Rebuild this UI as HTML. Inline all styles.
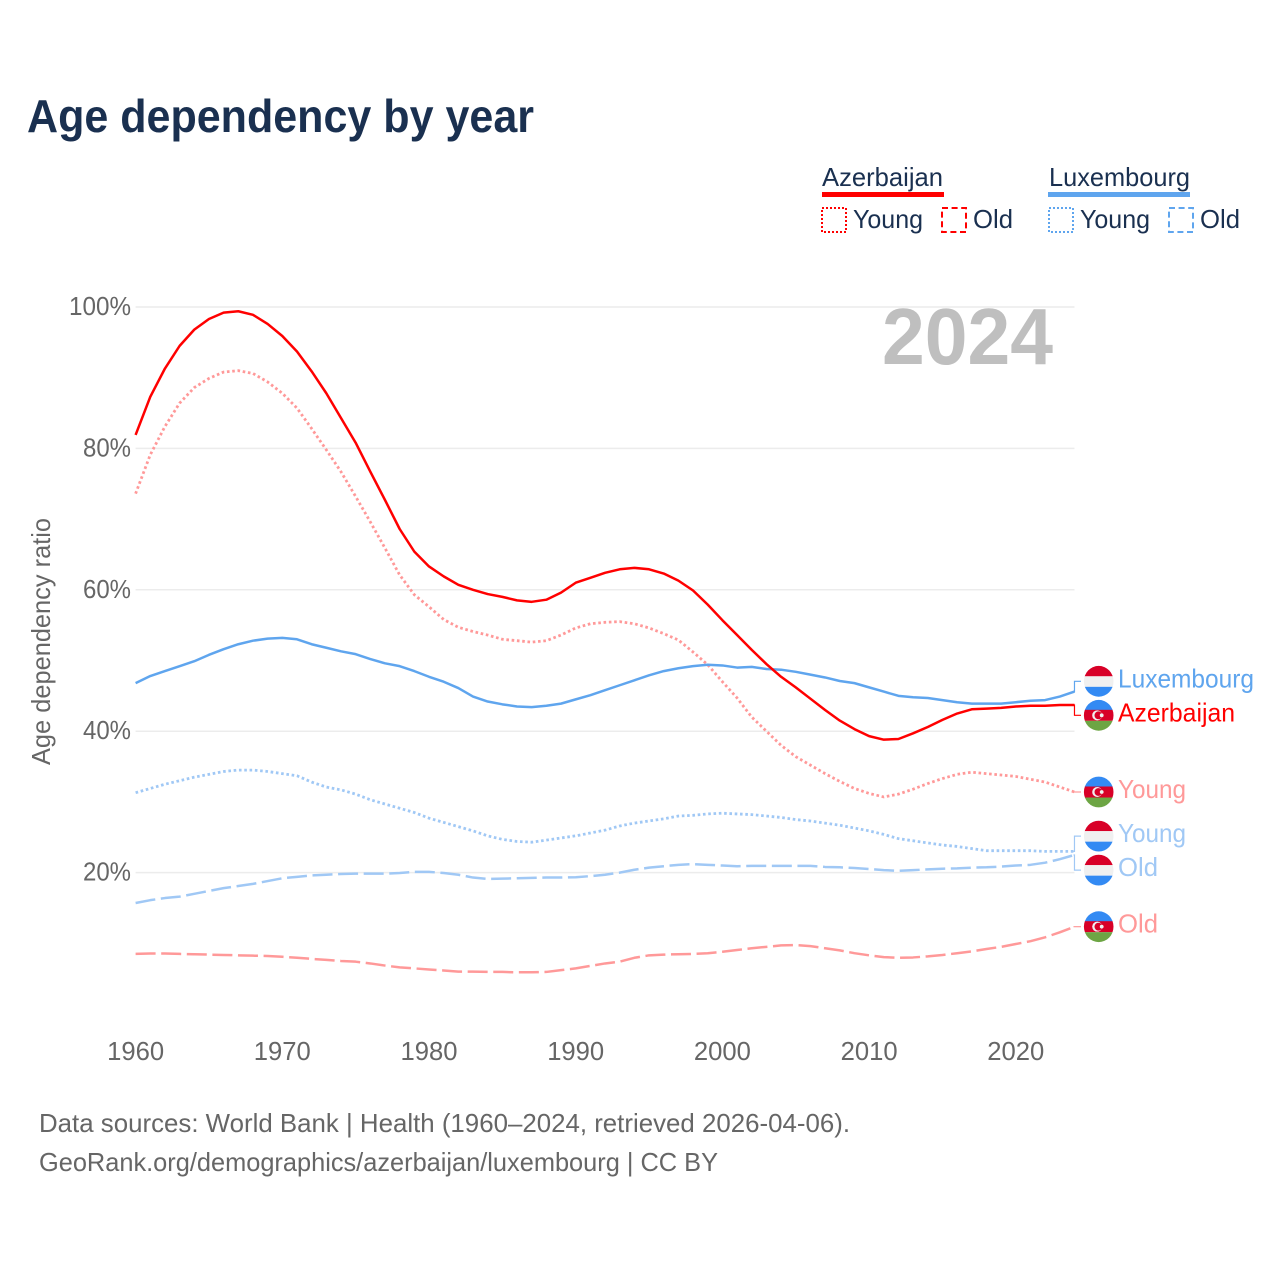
<!DOCTYPE html>
<html lang="en">
<head>
<meta charset="utf-8">
<title>Age dependency by year</title>
<style>
html,body{margin:0;padding:0;background:#fff;}
svg{display:block;font-family:"Liberation Sans",sans-serif;}
.navy{fill:#1a3050;}
.grey{fill:#666;}
</style>
</head>
<body>
<svg id="chart" xmlns="http://www.w3.org/2000/svg" width="1280" height="1280" viewBox="0 0 1280 1280">
  <defs>
    <clipPath id="flag-clip"><ellipse cx="0" cy="0" rx="14.8" ry="15.4"/></clipPath>
  </defs>
  <rect x="0" y="0" width="1280" height="1280" fill="#fff"/>
  <text class="navy" x="27" y="132" font-size="46" font-weight="700" textLength="507" lengthAdjust="spacingAndGlyphs">Age dependency by year</text>

  <g>
    <text class="navy" x="822" y="186" font-size="26" textLength="121" lengthAdjust="spacingAndGlyphs">Azerbaijan</text>
    <rect x="822" y="192" width="122" height="5" fill="#ff0000"/>
    <rect x="822" y="208" width="24" height="24" fill="none" stroke="#ff0000" stroke-width="2" stroke-dasharray="2 2"/>
    <text class="navy" x="853" y="228" font-size="26" textLength="70" lengthAdjust="spacingAndGlyphs">Young</text>
    <rect x="942" y="208" width="24" height="24" fill="none" stroke="#ff0000" stroke-width="2" stroke-dasharray="6 3.6"/>
    <text class="navy" x="973" y="228" font-size="26" textLength="40" lengthAdjust="spacingAndGlyphs">Old</text>
    <text class="navy" x="1049" y="186" font-size="26" textLength="141" lengthAdjust="spacingAndGlyphs">Luxembourg</text>
    <rect x="1048" y="192" width="142" height="5" fill="#5fa5ee"/>
    <rect x="1049" y="208" width="24" height="24" fill="none" stroke="#5fa5ee" stroke-width="2" stroke-dasharray="2 2"/>
    <text class="navy" x="1080" y="228" font-size="26" textLength="70" lengthAdjust="spacingAndGlyphs">Young</text>
    <rect x="1169" y="208" width="24" height="24" fill="none" stroke="#5fa5ee" stroke-width="2" stroke-dasharray="6 3.6"/>
    <text class="navy" x="1200" y="228" font-size="26" textLength="40" lengthAdjust="spacingAndGlyphs">Old</text>
  </g>

  <text class="grey" transform="translate(50,641.5) rotate(-90)" text-anchor="middle" font-size="26" textLength="247" lengthAdjust="spacingAndGlyphs">Age dependency ratio</text>

  <g id="grid"></g>
  <g id="yticks"></g>
  <g id="xticks"></g>

  <text x="1053" y="364" text-anchor="end" font-size="80" font-weight="700" fill="#bfbfbf" textLength="171" lengthAdjust="spacingAndGlyphs">2024</text>

  <g id="lines"></g>
  <g id="endlabels"></g>

  <text class="grey" x="39" y="1132" font-size="26" textLength="811" lengthAdjust="spacingAndGlyphs">Data sources: World Bank | Health (1960–2024, retrieved 2026-04-06).</text>
  <text class="grey" x="39" y="1171" font-size="26" textLength="679" lengthAdjust="spacingAndGlyphs">GeoRank.org/demographics/azerbaijan/luxembourg | CC BY</text>
</svg>

<script>
const years = [1960,1961,1962,1963,1964,1965,1966,1967,1968,1969,1970,1971,1972,1973,1974,1975,1976,1977,1978,1979,1980,1981,1982,1983,1984,1985,1986,1987,1988,1989,1990,1991,1992,1993,1994,1995,1996,1997,1998,1999,2000,2001,2002,2003,2004,2005,2006,2007,2008,2009,2010,2011,2012,2013,2014,2015,2016,2017,2018,2019,2020,2021,2022,2023,2024];
const azerbaijanTotal = [81.9,87.3,91.3,94.5,96.8,98.3,99.2,99.4,98.9,97.6,95.9,93.7,90.9,87.8,84.3,80.8,76.7,72.7,68.6,65.4,63.3,61.9,60.7,60.0,59.4,59.0,58.5,58.3,58.6,59.6,61.0,61.7,62.4,62.9,63.1,62.9,62.3,61.3,59.9,57.9,55.7,53.6,51.5,49.5,47.7,46.2,44.6,43.0,41.5,40.3,39.3,38.8,38.9,39.7,40.6,41.6,42.5,43.1,43.2,43.3,43.5,43.6,43.6,43.7,43.7];
const luxembourgTotal = [46.8,47.8,48.5,49.2,49.9,50.8,51.6,52.3,52.8,53.1,53.2,53.0,52.3,51.8,51.3,50.9,50.2,49.6,49.2,48.5,47.7,47.0,46.1,44.9,44.2,43.8,43.5,43.4,43.6,43.9,44.5,45.1,45.8,46.5,47.2,47.9,48.5,48.9,49.2,49.4,49.3,49.0,49.1,48.8,48.7,48.4,48.0,47.6,47.1,46.8,46.2,45.6,45.0,44.8,44.7,44.4,44.1,43.9,43.9,43.9,44.1,44.3,44.4,44.9,45.6];
const azerbaijanYoung = [73.6,79.1,83.1,86.4,88.6,89.9,90.8,91.0,90.6,89.4,87.8,85.7,82.8,79.8,76.7,73.2,69.6,65.9,62.1,59.3,57.6,55.8,54.7,54.1,53.6,53.0,52.8,52.6,52.8,53.6,54.6,55.2,55.4,55.5,55.2,54.6,53.8,52.9,51.2,49.4,47.0,44.7,42.0,40.0,38.0,36.4,35.2,34.0,32.9,31.9,31.2,30.7,31.1,31.8,32.6,33.3,33.9,34.2,34.0,33.8,33.6,33.2,32.8,32.1,31.4];
const luxembourgYoung = [31.3,31.9,32.5,33.0,33.5,33.9,34.3,34.5,34.5,34.3,34.0,33.7,32.8,32.1,31.7,31.1,30.3,29.7,29.1,28.5,27.7,27.1,26.5,25.9,25.2,24.7,24.4,24.3,24.6,24.9,25.2,25.6,26.0,26.6,27.0,27.3,27.6,28.0,28.1,28.3,28.4,28.3,28.2,28.0,27.8,27.5,27.3,27.0,26.7,26.3,25.9,25.4,24.8,24.5,24.2,23.9,23.7,23.4,23.1,23.1,23.1,23.1,23.0,23.0,23.0];
const luxembourgOld = [15.7,16.1,16.4,16.6,17.0,17.4,17.8,18.1,18.4,18.8,19.2,19.4,19.6,19.7,19.8,19.85,19.85,19.85,19.95,20.1,20.1,19.95,19.7,19.3,19.1,19.15,19.2,19.25,19.3,19.3,19.35,19.5,19.7,20.0,20.4,20.7,20.9,21.1,21.2,21.1,21.0,20.9,20.95,20.95,20.95,20.95,20.95,20.8,20.75,20.65,20.5,20.35,20.25,20.35,20.45,20.55,20.6,20.7,20.75,20.85,21.0,21.1,21.4,21.9,22.5];
const azerbaijanOld = [8.5,8.55,8.55,8.5,8.45,8.4,8.35,8.3,8.25,8.2,8.1,7.95,7.8,7.65,7.5,7.4,7.15,6.85,6.6,6.45,6.3,6.15,6.0,6.0,5.95,5.95,5.9,5.9,5.95,6.2,6.45,6.8,7.15,7.4,7.95,8.3,8.4,8.45,8.5,8.6,8.8,9.05,9.3,9.5,9.7,9.75,9.6,9.3,9.0,8.6,8.3,8.05,7.95,8.0,8.15,8.35,8.6,8.85,9.2,9.5,9.9,10.3,10.85,11.55,12.35];
const yTickValues = [100,80,60,40,20];
const yTickLabels = ["100%","80%","60%","40%","20%"];
const xTickValues = [1960,1970,1980,1990,2000,2010,2020];
const xTickLabels = ["1960","1970","1980","1990","2000","2010","2020"];

const SVGNS = 'http://www.w3.org/2000/svg';
const xScale = year => 135.6 + (year - 1960) * 14.67;
const yScale = value => 872.6 - (value - 20) * 7.07;

function make(tag, parent, attrs, text) {
  const node = document.createElementNS(SVGNS, tag);
  for (const key in attrs) node.setAttribute(key, attrs[key]);
  if (text !== undefined) node.textContent = text;
  parent.appendChild(node);
  return node;
}

const gridGroup = document.getElementById('grid');
const yTickGroup = document.getElementById('yticks');
yTickValues.forEach((value, i) => {
  const line = make('line', gridGroup, {x1: xScale(1960), x2: xScale(2024), y1: yScale(value), y2: yScale(value), stroke: '#ececec', 'stroke-width': 1.5});
  
  
  const label = make('text', yTickGroup, {x: 131, y: yScale(value) + 8, 'text-anchor': 'end', 'font-size': 26, fill: '#666', textLength: value === 100 ? 62 : 48, lengthAdjust: 'spacingAndGlyphs'}, yTickLabels[i]);
  
  
});

const xTickGroup = document.getElementById('xticks');
xTickValues.forEach((year, i) => {
  const label = make('text', xTickGroup, {x: xScale(year), y: 1060, 'text-anchor': 'middle', 'font-size': 26, fill: '#666', textLength: 57, lengthAdjust: 'spacingAndGlyphs'}, xTickLabels[i]);
  
  
});

const seriesList = [
  {key: 'azerbaijan-old', values: azerbaijanOld, color: '#ff9999', dash: '20 5.6', width: 2.5, text: 'Old', flag: 'az', labelWidth: 40},
  {key: 'luxembourg-old', values: luxembourgOld, color: '#a0c8f5', dash: '20 5.6', width: 2.5, text: 'Old', flag: 'lu', labelWidth: 40},
  {key: 'luxembourg-young', values: luxembourgYoung, color: '#a0c8f5', dash: '2.6 2.7', width: 2.8, text: 'Young', flag: 'lu', labelWidth: 68},
  {key: 'azerbaijan-young', values: azerbaijanYoung, color: '#ff9999', dash: '2.6 2.7', width: 2.8, text: 'Young', flag: 'az', labelWidth: 68},
  {key: 'luxembourg-total', values: luxembourgTotal, color: '#5fa5ee', dash: 'none', width: 2.5, text: 'Luxembourg', flag: 'lu', labelWidth: 136},
  {key: 'azerbaijan-total', values: azerbaijanTotal, color: '#ff0000', dash: 'none', width: 2.5, text: 'Azerbaijan', flag: 'az', labelWidth: 117}
];

const lineGroup = document.getElementById('lines');
seriesList.forEach(series => {
  const d = series.values.map((value, i) => (i ? 'L' : 'M') + xScale(years[i]).toFixed(2) + ' ' + yScale(value).toFixed(2)).join(' ');
  const path = make('path', lineGroup, {d: d, fill: 'none', stroke: series.color, 'stroke-width': series.width, 'stroke-dasharray': series.dash, 'stroke-linejoin': 'round'});
  
  
});

/* end labels: spread overlapping labels apart around their data position */
const MIN_GAP = 34;
const placed = seriesList.map(series => {
  const anchor = yScale(series.values[series.values.length - 1]);
  return {series: series, anchor: anchor, y: anchor};
}).sort((a, b) => a.anchor - b.anchor);
for (let pass = 0; pass < 20; pass++) {
  for (let i = 1; i < placed.length; i++) {
    const gap = placed[i].y - placed[i - 1].y;
    if (gap < MIN_GAP) {
      const shift = (MIN_GAP - gap) / 2;
      placed[i - 1].y -= shift;
      placed[i].y += shift;
    }
  }
}

const labelGroup = document.getElementById('endlabels');
const lineEndX = xScale(2024);
placed.forEach(item => {
  const series = item.series;
  const leader = make('path', labelGroup, {d: 'M' + (lineEndX - 1) + ' ' + item.anchor + ' H' + lineEndX + ' V' + item.y + ' H1081', fill: 'none', stroke: series.color, 'stroke-width': 1.2});
  
  

  const flag = make('g', labelGroup, {transform: 'translate(1098.7,' + item.y + ')', 'clip-path': 'url(#flag-clip)'});
  
  
  if (series.flag === 'lu') {
    make('rect', flag, {x: -16, y: -16, width: 32, height: 11, fill: '#d80027'});
    make('rect', flag, {x: -16, y: -5, width: 32, height: 10.5, fill: '#f0f0f0'});
    make('rect', flag, {x: -16, y: 5.5, width: 32, height: 11, fill: '#338af3'});
  } else {
    make('rect', flag, {x: -16, y: -16, width: 32, height: 11, fill: '#338af3'});
    make('rect', flag, {x: -16, y: -5.5, width: 32, height: 11, fill: '#d80027'});
    make('rect', flag, {x: -16, y: 5.5, width: 32, height: 11, fill: '#6da544'});
    make('circle', flag, {cx: -1.5, cy: 0, r: 5, fill: '#f0f0f0'});
    make('circle', flag, {cx: -0.3, cy: 0, r: 3.9, fill: '#d80027'});
    make('circle', flag, {cx: 3, cy: 0, r: 1.9, fill: '#f0f0f0'});
  }

  const label = make('text', labelGroup, {x: 1118, y: item.y + 6, 'font-size': 26, fill: series.color, textLength: series.labelWidth, lengthAdjust: 'spacingAndGlyphs'}, series.text);
  
  
});
</script>
</body>
</html>
